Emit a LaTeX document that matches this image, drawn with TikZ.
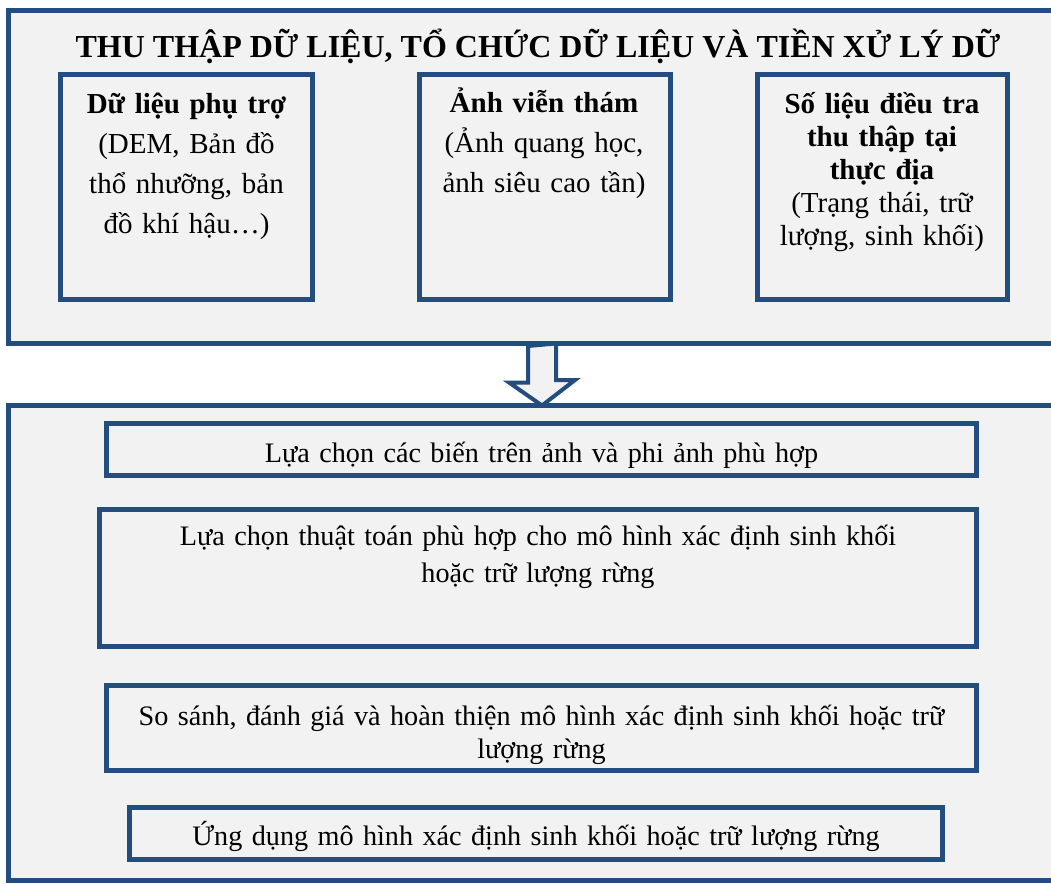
\documentclass[tikz,border=0pt]{standalone}
\usepackage{fontspec}
\setmainfont{Liberation Serif}
\usepackage{tikz}
\definecolor{khungxanh}{RGB}{35,76,127}
\definecolor{nenxam}{RGB}{242,242,242}

\begin{document}
\begin{tikzpicture}[x=1pt,y=-1pt,
	panel/.style={draw=khungxanh,fill=nenxam,line width=5pt,inner sep=0pt},
	hop/.style={draw=khungxanh,fill=nenxam,line width=5pt,inner sep=0pt},
	chu/.style={text width=#1,align=center,anchor=base,inner sep=0pt},
	muiten/.style={draw=khungxanh,fill=nenxam,line width=4pt,line join=miter}]
					\useasboundingbox (0,0) rectangle (1051,883);
					\clip (0,0) rectangle (1051,883);
					\node[panel,minimum width=1052pt,minimum height=333pt] (thuthap) at (534.25,177) {};
					\node[panel,minimum width=1052pt,minimum height=475pt] (xuly) at (534.25,643) {};
					\coordinate (dinh) at (542,405.5);
					\draw[muiten] (thuthap.south -| dinh) ++(-14,0) -- ++(0,36.5) -- ++(-19,0) -- (dinh) -- ++(33,-25.5) -- ++(-19,0) -- ++(0,-36.5) -- cycle;
					\node[anchor=base,inner sep=0pt,font=\bfseries\fontsize{32}{38}\selectfont] (tieude) at (538,58) {THU THẬP DỮ LIỆU, TỔ CHỨC DỮ LIỆU VÀ TIỀN XỬ LÝ DỮ};
					\node[hop,minimum width=252pt,minimum height=225pt] (phutro) at (186.5,187) {};
					\node[hop,minimum width=251pt,minimum height=225pt] (vientham) at (545,187) {};
					\node[hop,minimum width=250pt,minimum height=225pt] (dieutra) at (882.5,187) {};
					\node[chu=245pt,font=\fontsize{29}{40}\selectfont] (tphutro) at (186.5,113) {\textbf{Dữ liệu phụ trợ}\\(DEM, Bản đồ\\thổ nhưỡng, bản\\đồ khí hậu…)};
					\node[chu=245pt,font=\fontsize{29}{40}\selectfont] (tvientham) at (544,112) {\textbf{Ảnh viễn thám}\\(Ảnh quang học,\\ảnh siêu cao tần)};
					\node[chu=245pt,font=\fontsize{29}{33}\selectfont] (tdieutra) at (882,113) {\textbf{Số liệu điều tra}\\\textbf{thu thập tại}\\\textbf{thực địa}\\(Trạng thái, trữ\\lượng, sinh khối)};
					\node[hop,minimum width=870pt,minimum height=52pt] (bien) at (541.5,449.5) {};
					\node[hop,minimum width=877pt,minimum height=137pt] (thuattoan) at (538,578) {};
					\node[hop,minimum width=870pt,minimum height=85pt] (sosanh) at (541.5,728) {};
					\node[hop,minimum width=813pt,minimum height=52pt] (ungdung) at (536,833.5) {};
					\node[chu=860pt,font=\fontsize{28.2}{37}\selectfont] (tbien) at (541.5,462) {Lựa chọn các biến trên ảnh và phi ảnh phù hợp};
					\node[chu=860pt,font=\fontsize{28.2}{37}\selectfont] (tthuattoan) at (538,545) {Lựa chọn thuật toán phù hợp cho mô hình xác định sinh khối\\hoặc trữ lượng rừng};
					\node[chu=860pt,font=\fontsize{28.2}{33}\selectfont] (tsosanh) at (541.5,725) {So sánh, đánh giá và hoàn thiện mô hình xác định sinh khối hoặc trữ\\lượng rừng};
					\node[chu=800pt,font=\fontsize{28.2}{37}\selectfont] (tungdung) at (536,845) {Ứng dụng mô hình xác định sinh khối hoặc trữ lượng rừng};
				\end{tikzpicture}
\end{document}
